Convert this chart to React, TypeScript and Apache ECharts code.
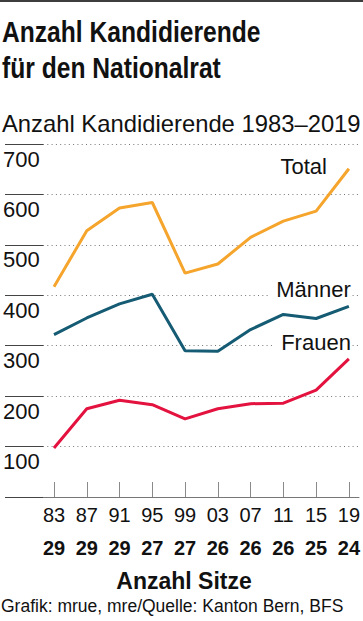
import React, { useEffect, useRef } from "react";
import * as echarts from "echarts";

const years = ["83", "87", "91", "95", "99", "03", "07", "11", "15", "19"];
const seats = ["29", "29", "29", "27", "27", "26", "26", "26", "25", "24"];
const total = [417, 528, 573, 584, 444, 462, 515, 547, 567, 651];
const maenner = [322, 355, 383, 402, 290, 289, 332, 362, 354, 378];
const frauen = [97, 175, 192, 183, 155, 175, 185, 186, 212, 274];
const yTicks = [0, 100, 200, 300, 400, 500, 600, 700];

const titleLines = ["Anzahl Kandidierende", "für den Nationalrat"];
const subtitleText = "Anzahl Kandidierende 1983–2019";
const xNameText = "Anzahl Sitze";
const footerText = "Grafik: mrue, mre/Quelle: Kanton Bern, BFS";

const FONT = "'Liberation Sans', Arial, Helvetica, sans-serif";
const INK = "#111";

const seriesDefs = [
  { name: "Total", data: total, color: "#F5A42C", dx: -21, dy: -2 },
  { name: "Männer", data: maenner, color: "#145B73", dx: 3, dy: -17 },
  { name: "Frauen", data: frauen, color: "#E3123F", dx: 3, dy: -16 },
];

export default function App() {
  const ref = useRef<HTMLDivElement>(null);

  useEffect(() => {
    document.body.style.margin = "0";
    const chart = echarts.init(ref.current!, null, { renderer: "svg" });
    const yMin = yTicks[0];
    const yMax = yTicks[yTicks.length - 1];
    chart.setOption({
      animation: false,
      backgroundColor: "#fff",
      grid: [
        { left: 54, right: 11.3, top: 144, bottom: 124 },
        { left: 40, right: 4, top: 144, bottom: 124 },
      ],
      xAxis: [
        {
          type: "category",
          gridIndex: 0,
          data: years,
          boundaryGap: false,
          axisLine: { show: false },
          axisTick: { show: true, inside: true, length: 15, lineStyle: { color: "#8a8a8a", width: 1 } },
          axisLabel: {
            margin: 2,
            interval: 0,
            formatter: (v: string, i: number) => `{a|${v}}\n{b|${seats[i]}}`,
            rich: {
              a: { fontFamily: FONT, fontSize: 20, lineHeight: 32.5, color: INK },
              b: { fontFamily: FONT, fontSize: 20, lineHeight: 32.5, color: INK, fontWeight: "bold" },
            },
          },
          splitLine: { show: false },
        },
        {
          type: "value",
          gridIndex: 1,
          min: 0,
          max: 1,
          axisLine: { show: true, lineStyle: { color: "#777", width: 1 } },
          axisTick: { show: false },
          axisLabel: { show: false },
          splitLine: { show: false },
        },
      ],
      yAxis: [
        { type: "value", gridIndex: 0, min: yMin, max: yMax, interval: 100, show: false },
        {
          type: "value",
          gridIndex: 1,
          min: yMin,
          max: yMax,
          interval: 100,
          offset: 2,
          axisLine: { show: false },
          axisTick: { show: true, length: 38, lineStyle: { color: "#444", width: 1 } },
          axisLabel: {
            align: "left",
            margin: 38,
            verticalAlign: "top",
            lineHeight: 30,
            fontSize: 22,
            fontFamily: FONT,
            color: INK,
            formatter: (v: number) => (v === 0 ? "" : String(v)),
          },
          splitLine: { show: true, lineStyle: { type: [1, 3.3], color: "#777", width: 1 } },
        },
      ],
      series: seriesDefs.map((s) => ({
        name: s.name,
        type: "line",
        xAxisIndex: 0,
        yAxisIndex: 0,
        data: s.data,
        symbol: "none",
        lineStyle: { color: s.color, width: 3 },
        itemStyle: { color: s.color },
        z: 3,
      })),
    });

    const labels = seriesDefs.map((s) => {
      const last = s.data.length - 1;
      const p = chart.convertToPixel({ xAxisIndex: 0, yAxisIndex: 0 }, [last, s.data[last]]) as number[];
      return {
        type: "text",
        x: p[0] + s.dx,
        y: p[1] + s.dy,
        z: 100,
        style: {
          text: s.name,
          align: "right",
          verticalAlign: "middle",
          fontFamily: FONT,
          fontSize: 22,
          fill: INK,
          backgroundColor: "#fff",
          padding: [0, 1, 0, 8],
        },
      };
    });

    const titleEls = titleLines.map((t, i) => ({
      type: "text",
      x: 2,
      y: 32 + i * 35.3,
      scaleX: 0.835,
      z: 100,
      style: {
        text: t,
        fontFamily: FONT,
        fontWeight: "bold",
        fontSize: 29.5,
        fill: INK,
        verticalAlign: "middle",
      },
    }));

    chart.setOption({
      graphic: [
        { type: "rect", left: 0, top: 0, z: 100, shape: { width: 363, height: 2 }, style: { fill: "#3d3d3d" } },
        ...titleEls,
        {
          type: "text",
          x: 2,
          y: 123,
          z: 100,
          style: { text: subtitleText, fontFamily: FONT, fontSize: 23.8, fill: INK, verticalAlign: "middle" },
        },
        {
          type: "text",
          x: 184,
          y: 581,
          z: 100,
          style: {
            text: xNameText,
            fontFamily: FONT,
            fontSize: 23,
            fontWeight: "bold",
            fill: INK,
            align: "center",
            verticalAlign: "middle",
          },
        },
        {
          type: "text",
          x: 1,
          y: 606,
          z: 100,
          style: { text: footerText, fontFamily: FONT, fontSize: 17.5, fill: INK, verticalAlign: "middle" },
        },
        ...labels,
      ],
    });

    return () => chart.dispose();
  }, []);

  return (
    <div
      ref={ref}
      style={{ position: "absolute", left: 0, top: 0, width: 363, height: 621, background: "#fff" }}
    />
  );
}
